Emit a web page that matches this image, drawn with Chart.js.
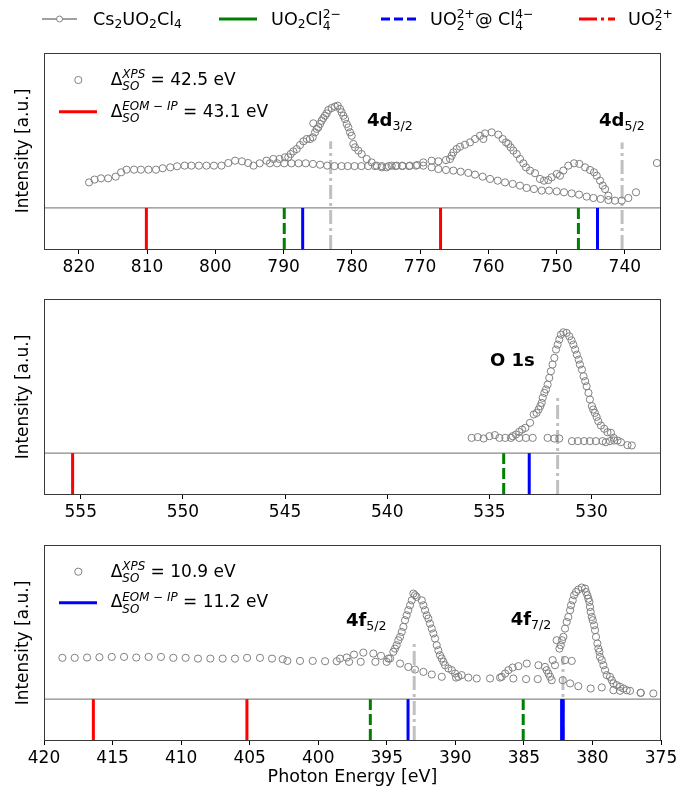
<!DOCTYPE html>
<html>
<head>
<meta charset="utf-8">
<script src="https://cdn.jsdelivr.net/npm/chart.js@4"></script>
<style>
  body { margin: 0; background: #fff; }
  #fig { position: relative; width: 690px; height: 786px; font-family: "DejaVu Sans", sans-serif; color: #000; overflow: hidden; }
  #fig canvas { position: absolute; left: 0; }
  #marks { position: absolute; left: 0; top: 0; }
  .t { position: absolute; font-size: 17px; line-height: 17px; white-space: nowrap; }
  .t.top { font-size: 17.6px; }
  .ss { display: inline-flex; flex-direction: column; font-size: 0.7em; line-height: 1; position: relative; top: -0.55em; }
  .sb { font-size: 0.7em; position: relative; top: 0.3em; }
  .it { font-style: italic; }
  .pk { position: absolute; font-weight: bold; font-size: 18px; line-height: 18px; white-space: nowrap; }
  .pk .sb { font-weight: normal; }
  .yl { position: absolute; left: 22px; font-size: 17px; line-height: 17px; white-space: nowrap; transform: translate(-50%, -50%) rotate(-90deg); }
</style>
</head>
<body>
<div id="fig">
  <canvas id="c4d" width="690" height="290" style="top:0"></canvas>
  <canvas id="c1s" width="690" height="250" style="top:290px"></canvas>
  <canvas id="c4f" width="690" height="246" style="top:540px"></canvas>

  <svg id="marks" width="690" height="786">
    <!-- top legend -->
    <line x1="42" y1="19" x2="77" y2="19" stroke="#808080" stroke-width="1.5"/>
    <circle cx="59.5" cy="19" r="3" fill="#fff" stroke="#808080" stroke-width="1"/>
    <line x1="219" y1="19" x2="257" y2="19" stroke="green" stroke-width="3"/>
    <line x1="381" y1="19" x2="416" y2="19" stroke="blue" stroke-width="3" stroke-dasharray="9,4"/>
    <line x1="579" y1="19" x2="615" y2="19" stroke="red" stroke-width="3" stroke-dasharray="18,4,3,4"/>
    <!-- panel legends -->
    <circle cx="78.3" cy="80" r="3.6" fill="none" stroke="#808080" stroke-width="1"/>
    <line x1="59" y1="111.7" x2="97" y2="111.7" stroke="red" stroke-width="3"/>
    <circle cx="78.3" cy="571.7" r="3.6" fill="none" stroke="#808080" stroke-width="1"/>
    <line x1="59" y1="602.7" x2="97" y2="602.7" stroke="blue" stroke-width="3"/>
  </svg>

  <div class="t top" style="left:93px;top:10.6px">Cs<span class="sb">2</span>UO<span class="sb">2</span>Cl<span class="sb">4</span></div>
  <div class="t top" style="left:271px;top:10.6px">UO<span class="sb">2</span>Cl<span class="ss"><span>2−</span><span>4</span></span></div>
  <div class="t top" style="left:430px;top:10.6px">UO<span class="ss"><span>2+</span><span>2</span></span>@ Cl<span class="ss"><span>4−</span><span>4</span></span></div>
  <div class="t top" style="left:628px;top:10.6px">UO<span class="ss"><span>2+</span><span>2</span></span></div>

  <div class="t" style="left:110.7px;top:71px">Δ<span class="ss it"><span>XPS</span><span>SO</span></span> = 42.5 eV</div>
  <div class="t" style="left:110.7px;top:103px">Δ<span class="ss it"><span>EOM − IP</span><span>SO</span></span> = 43.1 eV</div>
  <div class="t" style="left:110.7px;top:562.5px">Δ<span class="ss it"><span>XPS</span><span>SO</span></span> = 10.9 eV</div>
  <div class="t" style="left:110.7px;top:593.3px">Δ<span class="ss it"><span>EOM − IP</span><span>SO</span></span> = 11.2 eV</div>

  <div class="pk" style="left:367px;top:111px">4d<span class="sb">3/2</span></div>
  <div class="pk" style="left:599px;top:111px">4d<span class="sb">5/2</span></div>
  <div class="pk" style="left:490px;top:350.5px">O 1s</div>
  <div class="pk" style="left:346px;top:611px">4f<span class="sb">5/2</span></div>
  <div class="pk" style="left:510.7px;top:610px">4f<span class="sb">7/2</span></div>

  <div class="yl" style="top:151px">Intensity [a.u.]</div>
  <div class="yl" style="top:396.5px">Intensity [a.u.]</div>
  <div class="yl" style="top:642.5px">Intensity [a.u.]</div>
</div>

<script>
// ---- U 4d region: measured spectrum and background [eV, intensity]
const spec4d = [[818.5,0.165],[817.7,0.183],[816.75,0.191],[815.7,0.191],[814.6,0.202],[813.8,0.23],[813.0,0.247],[811.9,0.247],[810.9,0.247],[809.8,0.247],[808.7,0.247],[807.7,0.256],[806.6,0.262],[805.6,0.269],[804.5,0.273],[803.5,0.273],[802.4,0.273],[801.3,0.273],[800.2,0.273],[799.1,0.273],[798.1,0.29],[797.1,0.305],[796.1,0.301],[795.2,0.29],[794.4,0.273],[793.5,0.288],[792.5,0.305],[791.5,0.316],[790.6,0.316],[789.8,0.327],[789.3,0.327],[788.96,0.348],[788.57,0.365],[788.08,0.38],[787.59,0.406],[787.1,0.43],[786.61,0.445],[786.13,0.445],[785.73,0.456],[785.64,0.546],[785.39,0.488],[785.15,0.51],[784.9,0.52],[784.66,0.542],[784.42,0.563],[784.17,0.58],[783.93,0.595],[783.68,0.61],[783.44,0.632],[782.95,0.645],[782.46,0.654],[782.07,0.66],[781.73,0.639],[781.49,0.617],[781.24,0.595],[781.0,0.574],[780.75,0.542],[780.51,0.52],[780.26,0.488],[780.02,0.466],[779.78,0.413],[779.53,0.391],[779.04,0.37],[778.56,0.348],[777.82,0.316],[777.09,0.294],[776.36,0.273],[775.62,0.262],[774.89,0.262],[774.16,0.273],[773.43,0.273],[772.6,0.273],[771.5,0.273],[770.4,0.277],[769.52,0.294],[768.3,0.305],[767.32,0.301],[766.2,0.309],[765.61,0.316],[765.37,0.337],[765.12,0.359],[764.64,0.38],[764.15,0.395],[763.42,0.408],[762.68,0.423],[761.95,0.445],[761.22,0.466],[760.73,0.445],[760.48,0.481],[759.51,0.488],[758.53,0.473],[757.9,0.445],[757.41,0.423],[757.07,0.413],[756.72,0.391],[756.33,0.37],[755.84,0.348],[755.36,0.316],[754.87,0.288],[754.48,0.262],[753.89,0.241],[753.16,0.224],[752.43,0.187],[751.84,0.176],[751.21,0.18],[750.72,0.198],[749.98,0.219],[749.5,0.208],[749.01,0.241],[748.28,0.273],[747.44,0.288],[746.66,0.284],[745.83,0.262],[745.1,0.245],[744.51,0.23],[744.12,0.208],[743.63,0.176],[743.24,0.144],[742.9,0.122],[742.41,0.079],[741.44,0.047],[740.46,0.047],[739.48,0.064],[738.36,0.101],[735.3,0.29]];
const bg4d = [[791.99,0.288],[790.95,0.288],[789.9,0.288],[788.85,0.288],[787.8,0.288],[786.75,0.288],[785.7,0.284],[784.65,0.279],[783.6,0.273],[782.55,0.27],[781.5,0.27],[780.6,0.27],[779.6,0.27],[778.6,0.27],[777.6,0.27],[776.6,0.27],[775.6,0.27],[774.6,0.27],[773.6,0.27],[772.6,0.27],[771.6,0.27],[770.6,0.273],[769.52,0.273],[768.3,0.262],[767.32,0.251],[766.2,0.245],[765.12,0.241],[764.05,0.234],[762.93,0.226],[761.95,0.215],[760.83,0.202],[759.75,0.187],[758.63,0.176],[757.55,0.165],[756.43,0.155],[755.36,0.144],[754.38,0.129],[753.31,0.122],[752.18,0.112],[751.11,0.112],[749.98,0.107],[748.91,0.101],[747.79,0.094],[746.71,0.086],[745.59,0.073],[744.61,0.064],[743.54,0.058],[742.41,0.051]];
const xps4d = [783.1, 740.4];
const xpsTop4d = [0.43, 0.423];
const green4d = [789.9, 746.8];
const blue4d = [787.2, 744.0];
const red4d = [810.1, 767.0];
const ticks4d = [820, 810, 800, 790, 780, 770, 760, 750, 740];

// ---- O 1s region
const spec1s = [[535.87,0.099],[535.57,0.104],[535.28,0.095],[535.0,0.11],[534.73,0.117],[534.51,0.099],[534.22,0.099],[533.94,0.099],[533.86,0.11],[533.7,0.121],[533.54,0.138],[533.4,0.153],[533.24,0.164],[533.01,0.197],[532.83,0.251],[532.69,0.261],[532.59,0.283],[532.51,0.305],[532.44,0.326],[532.39,0.359],[532.31,0.391],[532.23,0.413],[532.15,0.445],[532.07,0.488],[531.99,0.531],[531.91,0.575],[531.82,0.618],[531.74,0.672],[531.66,0.704],[531.58,0.737],[531.5,0.769],[531.38,0.784],[531.22,0.78],[531.09,0.758],[530.98,0.732],[530.89,0.704],[530.8,0.672],[530.72,0.639],[530.63,0.607],[530.57,0.575],[530.47,0.542],[530.39,0.499],[530.31,0.467],[530.24,0.434],[530.15,0.391],[530.08,0.348],[529.98,0.305],[529.92,0.283],[529.84,0.261],[529.75,0.235],[529.67,0.207],[529.54,0.179],[529.38,0.158],[529.22,0.136],[529.05,0.132],[528.92,0.099],[528.73,0.082],[528.56,0.071],[528.24,0.052],[528.03,0.05]];
const bg1s = [[533.54,0.099],[533.21,0.099],[532.88,0.099],[532.15,0.099],[531.82,0.095],[531.58,0.095],[530.96,0.078],[530.67,0.078],[530.36,0.078],[530.08,0.078],[529.79,0.078],[529.46,0.078],[529.3,0.071],[529.1,0.078],[528.89,0.082]];
const xps1s = [531.66];
const xpsTop1s = [0.365];
const green1s = [534.3];
const blue1s = [533.05];
const red1s = [555.4];
const ticks1s = [555, 550, 545, 540, 535, 530];

// ---- U 4f region
const spec4f = [[418.66,0.268],[417.76,0.268],[416.86,0.27],[415.96,0.272],[415.06,0.274],[414.16,0.274],[413.27,0.27],[412.37,0.274],[411.47,0.274],[410.57,0.268],[409.67,0.268],[408.77,0.263],[407.87,0.263],[406.97,0.263],[406.07,0.263],[405.19,0.268],[404.25,0.268],[403.37,0.263],[402.59,0.259],[402.25,0.248],[401.33,0.248],[400.4,0.248],[399.5,0.246],[398.65,0.246],[398.41,0.263],[397.92,0.27],[397.39,0.289],[396.71,0.302],[395.98,0.296],[395.42,0.281],[394.88,0.263],[394.76,0.264],[394.52,0.307],[394.4,0.328],[394.28,0.35],[394.16,0.382],[394.03,0.404],[393.91,0.436],[393.79,0.469],[393.67,0.512],[393.55,0.544],[393.43,0.577],[393.3,0.609],[393.18,0.641],[393.06,0.685],[392.94,0.674],[392.82,0.663],[392.45,0.641],[392.33,0.609],[392.21,0.577],[392.09,0.544],[391.97,0.523],[391.85,0.49],[391.72,0.458],[391.6,0.426],[391.48,0.393],[391.36,0.35],[391.24,0.317],[391.12,0.285],[390.99,0.264],[390.87,0.242],[390.75,0.22],[390.51,0.199],[390.26,0.188],[390.02,0.166],[389.78,0.145],[389.54,0.156],[389.05,0.14],[388.44,0.134],[387.47,0.134],[386.74,0.14],[386.62,0.145],[386.37,0.166],[386.13,0.188],[385.82,0.205],[385.4,0.214],[384.79,0.231],[383.94,0.22],[383.46,0.209],[383.34,0.188],[383.21,0.166],[383.09,0.145],[382.9,0.253],[382.73,0.22],[382.61,0.382],[382.41,0.328],[382.31,0.35],[382.22,0.382],[382.12,0.404],[382.0,0.458],[381.88,0.501],[381.76,0.533],[381.63,0.577],[381.56,0.609],[381.44,0.641],[381.34,0.674],[381.2,0.695],[381.03,0.711],[380.78,0.724],[380.54,0.717],[380.47,0.695],[380.37,0.674],[380.3,0.652],[380.22,0.631],[380.18,0.598],[380.13,0.566],[380.05,0.533],[379.98,0.512],[379.88,0.479],[379.81,0.447],[379.74,0.404],[379.64,0.361],[379.57,0.328],[379.49,0.307],[379.45,0.274],[379.32,0.253],[379.2,0.22],[379.08,0.188],[378.96,0.156],[378.72,0.145],[378.59,0.123],[378.47,0.102],[378.23,0.091],[377.99,0.08],[377.74,0.069],[377.5,0.058],[377.26,0.054],[376.48,0.041],[375.56,0.037]];
const bg4f = [[397.75,0.242],[396.9,0.242],[395.83,0.242],[395.01,0.242],[394.03,0.231],[393.43,0.209],[392.94,0.192],[392.33,0.177],[391.72,0.16],[390.99,0.145],[389.95,0.14],[385.77,0.134],[384.84,0.13],[383.99,0.13],[382.97,0.123],[382.17,0.123],[382.0,0.253],[381.51,0.248],[381.63,0.102],[381.03,0.084],[380.13,0.069],[379.32,0.076],[378.47,0.058],[377.99,0.054],[376.48,0.041]];
const xps4f = [393.0, 382.15];
const xpsTop4f = [0.36, 0.28];
const green4f = [396.2, 385.05];
const blue4f = [393.45, 382.25, 382.13];
const red4f = [416.4, 405.2];
const ticks4f = [420, 415, 410, 405, 400, 395, 390, 385, 380, 375];

const Y_LO = -0.265, Y_HI = 1;
const FONT = { family: 'DejaVu Sans', size: 17 };

// dark box round the plot area, like matplotlib spines
const framePlugin = {
  id: 'frame',
  afterDraw(chart) {
    const { ctx, chartArea: a } = chart;
    ctx.save();
    ctx.strokeStyle = '#3a3a3a';
    ctx.lineWidth = 1;
    ctx.strokeRect(Math.round(a.left) + 0.5, Math.round(a.top) + 0.5,
      Math.round(a.right - a.left) - 1, Math.round(a.bottom - a.top));
    ctx.restore();
  }
};

function circles(arr) {
  return {
    data: arr.map(p => ({ x: p[0], y: p[1] })),
    pointRadius: 3.6, pointBorderWidth: 1,
    pointBorderColor: '#808080', pointBackgroundColor: 'rgba(0,0,0,0)',
    showLine: false
  };
}

function stick(e, color, dash, top) {
  return {
    data: [{ x: e, y: Y_LO }, { x: e, y: top }],
    showLine: true, borderColor: color, borderWidth: 3, borderDash: dash,
    pointRadius: 0
  };
}

function panel(id, o) {
  // earlier datasets end up on top, so the grey XPS markers go last
  const ds = [circles(o.spec), circles(o.bg)];
  o.red.forEach(e => ds.push(stick(e, 'red', [], 0)));
  o.blue.forEach(e => ds.push(stick(e, 'blue', [], 0)));
  o.green.forEach(e => ds.push(stick(e, 'green', [11, 4], 0)));
  o.xps.forEach((e, i) => ds.push(stick(e, '#c0c0c0', [14, 4, 3, 4], o.xpsTop[i])));
  // separator between spectrum and computed sticks
  ds.push({ data: [{ x: o.max, y: 0 }, { x: o.min, y: 0 }], showLine: true,
    borderColor: '#8a8a8a', borderWidth: 1.2, pointRadius: 0 });

  new Chart(document.getElementById(id), {
    type: 'scatter',
    data: { datasets: ds },
    options: {
      responsive: false,
      animation: false,
      layout: { padding: o.pad },
      plugins: { legend: { display: false }, tooltip: { enabled: false } },
      scales: {
        x: {
          type: 'linear', reverse: true, min: o.min, max: o.max,
          afterBuildTicks: s => { s.ticks = o.ticks.map(v => ({ value: v })); },
          afterFit: s => { s.height = o.axisH; },
          ticks: { font: FONT, color: '#000', padding: 3, maxRotation: 0, autoSkip: false },
          grid: { drawOnChartArea: false, drawTicks: true, tickLength: 5, color: '#000' },
          border: { display: false },
          title: o.title
            ? { display: true, text: o.title, font: { family: 'DejaVu Sans', size: 17.5, lineHeight: 1 }, color: '#000', padding: 0 }
            : { display: false }
        },
        y: { display: false, min: Y_LO, max: Y_HI }
      }
    },
    plugins: [framePlugin]
  });
}

panel('c4d', { spec: spec4d, bg: bg4d, xps: xps4d, xpsTop: xpsTop4d, green: green4d, blue: blue4d, red: red4d,
  ticks: ticks4d, min: 734.7, max: 825.1, axisH: 30, pad: { top: 53, left: 44, right: 29, bottom: 11 } });
panel('c1s', { spec: spec1s, bg: bg1s, xps: xps1s, xpsTop: xpsTop1s, green: green1s, blue: blue1s, red: red1s,
  ticks: ticks1s, min: 526.6, max: 556.8, axisH: 30, pad: { top: 9, left: 44, right: 29, bottom: 16 } });
panel('c4f', { spec: spec4f, bg: bg4f, xps: xps4f, xpsTop: xpsTop4f, green: green4f, blue: blue4f, red: red4f,
  ticks: ticks4f, min: 375, max: 420, axisH: 46, title: 'Photon Energy [eV]',
  pad: { top: 5, left: 44, right: 29, bottom: 0 } });
</script>
</body>
</html>
